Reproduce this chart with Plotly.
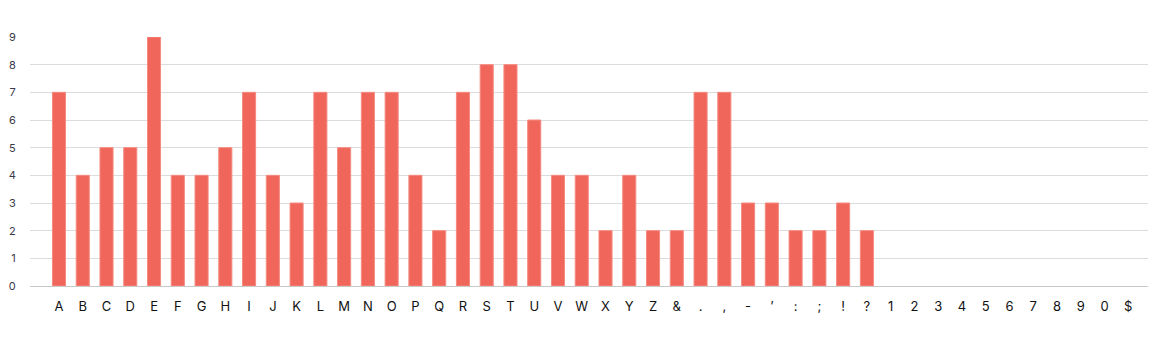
import plotly.graph_objects as go

categories = ["A","B","C","D","E","F","G","H","I","J","K","L","M","N","O","P","Q","R","S","T","U","V","W","X","Y","Z",
              "&",".",",","-","\u2019",":",";","!","?","1","2","3","4","5","6","7","8","9","0","$"]
values = [7,4,5,5,9,4,4,5,7,4,3,7,5,7,7,4,2,7,8,8,6,4,4,2,4,2,
          2,7,7,3,3,2,2,3,2,0,0,0,0,0,0,0,0,0,0,0]
y_ticks = [0,1,2,3,4,5,6,7,8,9]

fig = go.Figure(go.Bar(
    x=list(range(len(categories))), y=values,
    marker=dict(color="#F0665A",
                line=dict(color="#F58A80", width=[1 if v > 0 else 0 for v in values])),
    width=0.55,
))
fig.update_layout(
    width=1170, height=337,
    margin=dict(l=30, r=22, t=37, b=51),
    paper_bgcolor="white", plot_bgcolor="white",
    font=dict(family="Inter", size=12, color="#222"),
    showlegend=False,
    xaxis=dict(
        tickmode="array", tickvals=list(range(len(categories))), ticktext=categories,
        range=[-1.22, 45.83], showgrid=False, zeroline=False, showline=False,
        ticks="outside", ticklen=8, tickcolor="rgba(0,0,0,0)",
        tickfont=dict(size=13, color="#111"), automargin=False,
    ),
    yaxis=dict(
        range=[0, 9], tickvals=y_ticks, showgrid=True, gridcolor="#dcdcdc", gridwidth=1,
        zeroline=True, zerolinecolor="#c8c8c8", zerolinewidth=1, showline=False,
        ticks="outside", ticklen=11, tickcolor="rgba(0,0,0,0)",
        tickfont=dict(size=11, color="#3a3a4a"), automargin=False,
    ),
)
fig.write_html("out.html")
